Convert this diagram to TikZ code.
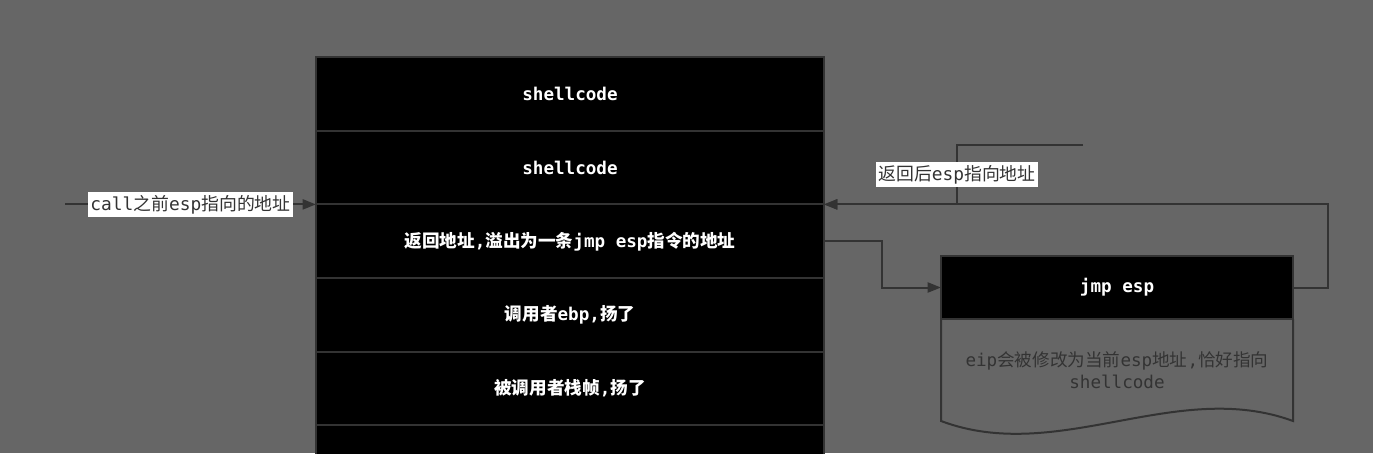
\documentclass[tikz,border=0pt]{standalone}
\usepackage{fontspec}
\setmainfont{DejaVu Sans Mono}
\newfontfamily\cjk{Noto Sans CJK SC}
\newcommand\zh[1]{{\cjk #1}}
\usetikzlibrary{arrows.meta,positioning}
\definecolor{bgc}{HTML}{666666}
\definecolor{edgec}{HTML}{333333}

\begin{document}
\begin{tikzpicture}[x=0.75pt,y=-0.75pt,
        node distance=0pt,
        cell/.style={draw=edgec, line width=1.5pt, fill=black, text=white, inner sep=0pt, outer sep=0pt,
            font=\fontsize{13.2}{16}\selectfont\bfseries, minimum width=381pt, minimum height=55.2pt},
        tag/.style={fill=white, text=edgec, inner xsep=1.5pt, inner ysep=2.5pt,
            font=\fontsize{13.4}{16}\selectfont},
        arrow/.style={-{Triangle[length=10pt,width=7.5pt]}, draw=edgec, line width=1.5pt}
    ]
        % Background
        \fill[bgc] (0,0) rectangle (1373,453);
        \useasboundingbox (0,0) rectangle (1373,453);

        % Stack
        \node[cell] (r1) at (570,94) {shellcode};
        \node[cell, below=of r1] (r2) {shellcode};
        \node[cell, below=of r2] (r3) {\zh{返回地址},\zh{溢出为一条}jmp esp\zh{指令的地址}};
        \node[cell, below=of r3] (r4) {\zh{调用者}ebp,\zh{扬了}};
        \node[cell, below=of r4] (r5) {\zh{被调用者栈帧},\zh{扬了}};
        \node[cell, below=of r5] (r6) {};

        % jmp esp and note
        \node[cell, minimum width=264pt, minimum height=47.25pt] (jmp) at (1117,287.5) {jmp esp};
        \node[below=of jmp, minimum width=264pt, minimum height=76.5pt, outer sep=0pt, align=center,
            text=edgec, font=\fontsize{13.2}{16.5}\selectfont] (note)
            {eip\zh{会被修改为当前}esp\zh{地址},\zh{恰好指向}\\shellcode};
        \draw[edgec, line width=1.5pt] (note.north west) -- (note.south west)
            .. controls +(117,44) and +(-117,-43) .. (note.south east) -- (note.north east);

        % Connections
        \path (r3.north west) ++(-251,0) coordinate (callfree);
        \draw[arrow] (callfree) -- node[tag] {call\zh{之前}esp\zh{指向的地址}} (r3.north west);
        \draw[arrow] (r3.east) -- ++(58,0) |- (jmp.west);
        \draw[arrow] (jmp.east) -- ++(35,0) |- (r3.north east);

        % Return label branch
        \coordinate (retfree) at (1083,145);
        \coordinate (retbend) at (957,145);
        \draw[arrow] (retfree) -- (retbend) |- node[tag, pos=0.25] {\zh{返回后}esp\zh{指向地址}} (r3.north east);
    \end{tikzpicture}
\end{document}
